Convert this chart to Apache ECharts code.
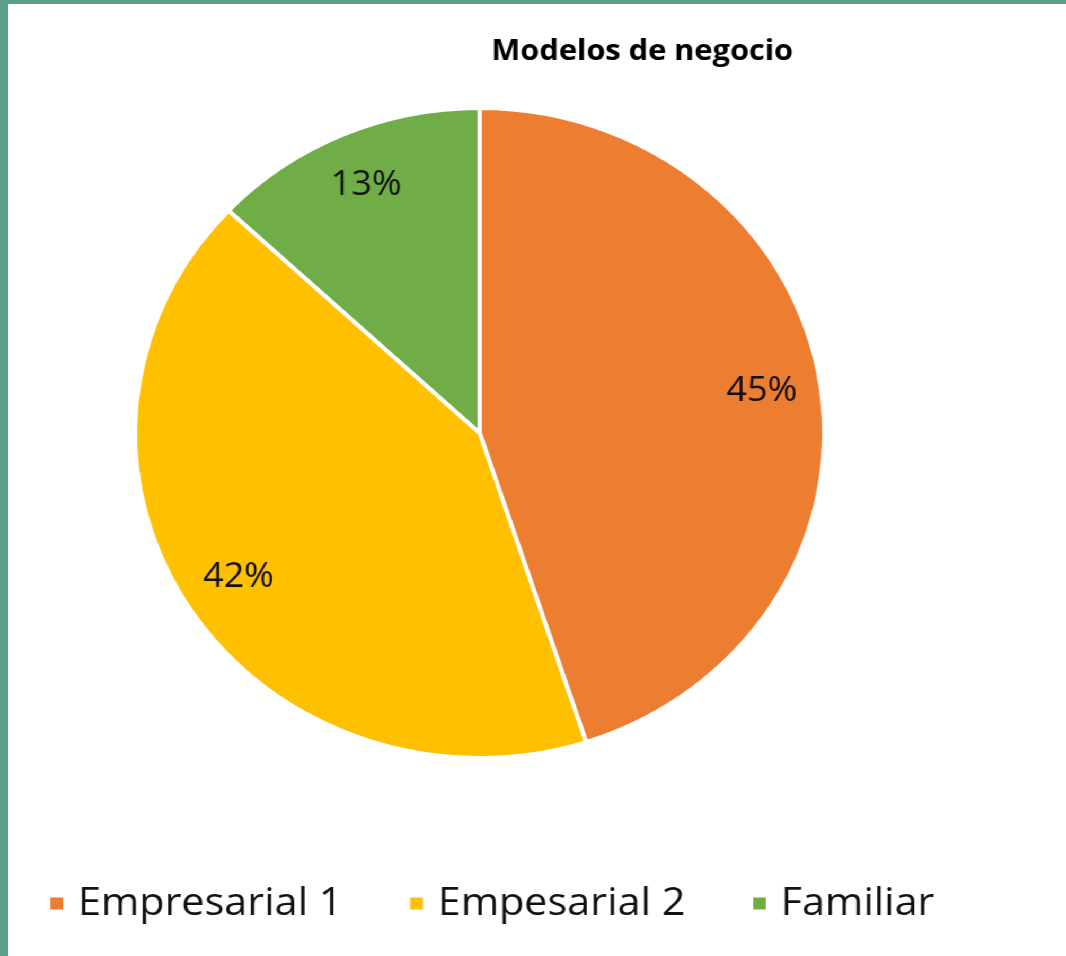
<!DOCTYPE html>
<html>
<head>
<meta charset="utf-8">
<script src="https://cdn.jsdelivr.net/npm/echarts@6/dist/echarts.min.js"></script>
<style>
  html, body { margin: 0; padding: 0; width: 1066px; height: 956px; background: #5a9f8a; overflow: hidden; }
  /* the source picture is stretched a little horizontally, so the chart is too */
  #chart { position: absolute; left: 8px; top: 4px; width: 998px; height: 952px; background: #ffffff;
           transform: scaleX(1.06); transform-origin: 0 0; }
</style>
</head>
<body>
<div id="chart"></div>
<script>
var categories = ['Empresarial 1', 'Empesarial 2', 'Familiar'];
var values = [45, 42, 13];
var colors = ['#ED7D31', '#FFC000', '#70AD47'];

var chart = echarts.init(document.getElementById('chart'));

var pieData = categories.map(function (name, i) {
  return { name: name, value: values[i], itemStyle: { color: colors[i] } };
});

var option = {
  backgroundColor: '#ffffff',
  animation: false,
  title: {
    text: 'Modelos de negocio',
    left: 451,
    top: 28,
    textStyle: { fontFamily: 'Open Sans', fontWeight: 'bold', fontSize: 29, color: '#000' }
  },
  legend: {
    data: categories,
    left: 33,
    top: 875,
    icon: 'rect',
    itemWidth: 14,
    itemHeight: 14,
    itemGap: 62,
    textStyle: { fontFamily: 'Open Sans', fontSize: 39, color: '#111', padding: [0, 0, 0, 8] }
  },
  series: [
    {
      type: 'pie',
      center: [445, 429],
      radius: [0, 325],
      startAngle: 90,
      clockwise: true,
      data: pieData,
      label: { show: false },
      labelLine: { show: false },
      itemStyle: { borderColor: '#ffffff', borderWidth: 4 },
      emphasis: { disabled: true }
    },
    {
      // transparent ring, only there to put the labels at ~82% of the radius
      type: 'pie',
      center: [445, 429],
      radius: [208, 325],
      startAngle: 90,
      clockwise: true,
      silent: true,
      data: categories.map(function (name, i) {
        return { name: name, value: values[i] };
      }),
      itemStyle: { color: 'rgba(0,0,0,0)', borderWidth: 0 },
      label: {
        show: true,
        position: 'inside',
        formatter: '{d}%',
        fontFamily: 'Open Sans',
        fontSize: 34,
        color: '#111'
      },
      labelLine: { show: false },
      emphasis: { disabled: true }
    }
  ]
};

chart.setOption(option);
</script>
</body>
</html>
